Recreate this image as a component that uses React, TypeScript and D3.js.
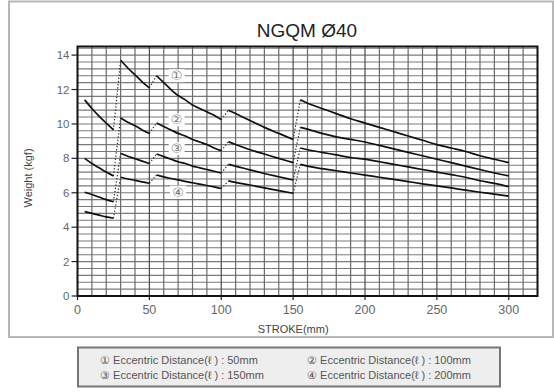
import React from "react";
import * as d3 from "d3";

const title = "NGQM  Ø40";
const xLabel = "STROKE(mm)";
const yLabel = "Weight (kgf)";
const xTicks = [0, 50, 100, 150, 200, 250, 300];
const yTicks = [0, 2, 4, 6, 8, 10, 12, 14];

const segA_x = [5, 10, 15, 20, 25];
const segB_x = [30, 35, 40, 45, 50];
const segC_x = [55, 60, 65, 70, 75, 80, 85, 90, 95, 100];
const segD_x = [105, 110, 120, 130, 140, 150];
const segE_x = [155, 160, 170, 180, 190, 200, 210, 220, 230, 240, 250, 260, 270, 280, 290, 300];
const segXs = [segA_x, segB_x, segC_x, segD_x, segE_x];

const s1 = [
  [11.4, 10.9, 10.45, 10.05, 9.65],
  [13.7, 13.25, 12.85, 12.45, 12.1],
  [12.8, 12.4, 12.0, 11.65, 11.4, 11.1, 10.9, 10.7, 10.5, 10.25],
  [10.8, 10.6, 10.2, 9.8, 9.45, 9.1],
  [11.4, 11.2, 10.9, 10.6, 10.3, 10.05, 9.8, 9.55, 9.3, 9.05, 8.8, 8.6, 8.4, 8.15, 7.95, 7.75],
];
const s2 = [
  [8.0, 7.7, 7.45, 7.2, 6.98],
  [10.35, 10.1, 9.9, 9.65, 9.45],
  [10.05, 9.85, 9.65, 9.45, 9.3, 9.1, 8.95, 8.8, 8.6, 8.45],
  [8.97, 8.8, 8.5, 8.25, 8.0, 7.75],
  [9.8, 9.7, 9.45, 9.25, 9.1, 8.95, 8.75, 8.55, 8.35, 8.15, 7.95, 7.75, 7.55, 7.35, 7.15, 6.98],
];
const s3 = [
  [6.03, 5.9, 5.75, 5.6, 5.48],
  [8.28, 8.12, 7.98, 7.84, 7.7],
  [8.25, 8.1, 7.95, 7.8, 7.7, 7.55, 7.45, 7.35, 7.25, 7.15],
  [7.65, 7.55, 7.33, 7.12, 6.93, 6.74],
  [8.6, 8.5, 8.35, 8.2, 8.05, 7.95, 7.8, 7.65, 7.5, 7.35, 7.2, 7.05, 6.9, 6.7, 6.55, 6.36],
];
const s4 = [
  [4.9, 4.8, 4.7, 4.6, 4.52],
  [6.9, 6.8, 6.72, 6.63, 6.55],
  [7.03, 6.92, 6.83, 6.75, 6.66, 6.58, 6.5, 6.42, 6.34, 6.25],
  [6.69, 6.6, 6.45, 6.28, 6.12, 5.97],
  [7.65, 7.55, 7.4, 7.28, 7.15, 7.03, 6.9, 6.78, 6.65, 6.52, 6.4, 6.28, 6.15, 6.03, 5.92, 5.8],
];
const seriesList = [s1, s2, s3, s4];

const markerText = ["①", "②", "③", "④"];
const markerX = [69, 69, 69, 70];
const markerY = [12.8, 10.23, 8.57, 6.03];

const legendItems = [
  "① Eccentric Distance(ℓ ) : 50mm",
  "② Eccentric Distance(ℓ ) : 100mm",
  "③ Eccentric Distance(ℓ ) : 150mm",
  "④ Eccentric Distance(ℓ ) : 200mm",
];

const W = 554;
const H = 392;
const x = d3.scaleLinear().domain([0, 320]).range([77.5, 537.5]);
const y = d3.scaleLinear().domain([0, 14.5]).range([296, 46.5]);
const FONT = "'Liberation Sans', Arial, sans-serif";

export default function App() {
  const line = d3
    .line<[number, number]>()
    .x((d) => x(d[0]))
    .y((d) => y(d[1]))
    .curve(d3.curveMonotoneX);

  const vGrid = d3.range(10, 320, 10);
  const hGrid = d3.range(1, 37).map((i) => +(i * 0.4).toFixed(2));

  const segs: string[] = [];
  const dots: string[] = [];
  seriesList.forEach((ser) => {
    ser.forEach((vals, si) => {
      const pts = vals.map((v, i) => [segXs[si][i], v] as [number, number]);
      segs.push(line(pts) || "");
      if (si < ser.length - 1) {
        const a: [number, number] = [segXs[si][segXs[si].length - 1], vals[vals.length - 1]];
        const b: [number, number] = [segXs[si + 1][0], ser[si + 1][0]];
        dots.push(`M${x(a[0])},${y(a[1])}L${x(b[0])},${y(b[1])}`);
      }
    });
  });

  return (
    <svg
      width={W}
      height={H}
      style={{ position: "absolute", left: 0, top: 0, background: "#fff" }}
      fontFamily={FONT}
    >
      <rect x={9} y={1.5} width={544} height={335.5} fill="#fff" stroke="#b8b8b8" strokeWidth={2} />
      <text x={307} y={37} textAnchor="middle" fontSize={19} fill="#222">
        {title}
      </text>

      {hGrid.map((v) => (
        <line
          key={"h" + v}
          x1={x(0)}
          x2={x(320)}
          y1={y(v)}
          y2={y(v)}
          stroke="#7a7a7a"
          strokeWidth={1.1}
        />
      ))}
      {vGrid.map((v) => (
        <line
          key={"v" + v}
          x1={x(v)}
          x2={x(v)}
          y1={y(14.5)}
          y2={y(0)}
          stroke={v % 50 === 0 ? "#4a4a4a" : "#6a6a6a"}
          strokeWidth={1.2}
        />
      ))}

      {markerText.map((t, i) => (
        <g key={"m" + i}>
          <rect x={x(markerX[i]) - 8} y={y(markerY[i]) - 6.5} width={16} height={13} fill="#fff" />
          <text
            x={x(markerX[i])}
            y={y(markerY[i]) + 4.5}
            textAnchor="middle"
            fontSize={13}
            fill="#777"
            fontFamily="'DejaVu Sans', sans-serif"
          >
            {t}
          </text>
        </g>
      ))}

      {dots.map((d, i) => (
        <path key={"d" + i} d={d} fill="none" stroke="#333" strokeWidth={1.2} strokeDasharray="1.4,1.8" />
      ))}
      {segs.map((d, i) => (
        <path key={"s" + i} d={d} fill="none" stroke="#111" strokeWidth={1.7} />
      ))}

      <rect x={x(0)} y={y(14.5)} width={x(320) - x(0)} height={y(0) - y(14.5)} fill="none" stroke="#111" strokeWidth={2} />

      {yTicks.map((t) => (
        <g key={"yt" + t}>
          <line x1={x(0) - 6} x2={x(0)} y1={y(t)} y2={y(t)} stroke="#222" strokeWidth={1.2} />
          <text x={x(0) - 8} y={y(t) + 4} textAnchor="end" fontSize={11.5} fill="#666">
            {t}
          </text>
        </g>
      ))}
      {xTicks.map((t) => (
        <g key={"xt" + t}>
          <line x1={x(t)} x2={x(t)} y1={y(0)} y2={y(0) + 4} stroke="#222" strokeWidth={1.2} />
          <text x={x(t)} y={y(0) + 18} textAnchor="middle" fontSize={12.5} fill="#666">
            {t}
          </text>
        </g>
      ))}
      <text x={x(150)} y={333} textAnchor="middle" fontSize={11} fill="#444">
        {xLabel}
      </text>
      <text
        transform={`translate(32,${178}) rotate(-90)`}
        textAnchor="middle"
        fontSize={11}
        fill="#444"
      >
        {yLabel}
      </text>

      <rect x={78} y={347.5} width={422} height={39} fill="#eeeeee" stroke="#777" strokeWidth={2} />
      {legendItems.map((t, i) => (
        <text
          key={"l" + i}
          x={i % 2 === 0 ? 100 : 307}
          y={i < 2 ? 364 : 379}
          fontSize={11}
          fill="#555"
        >
          {t}
        </text>
      ))}
    </svg>
  );
}
